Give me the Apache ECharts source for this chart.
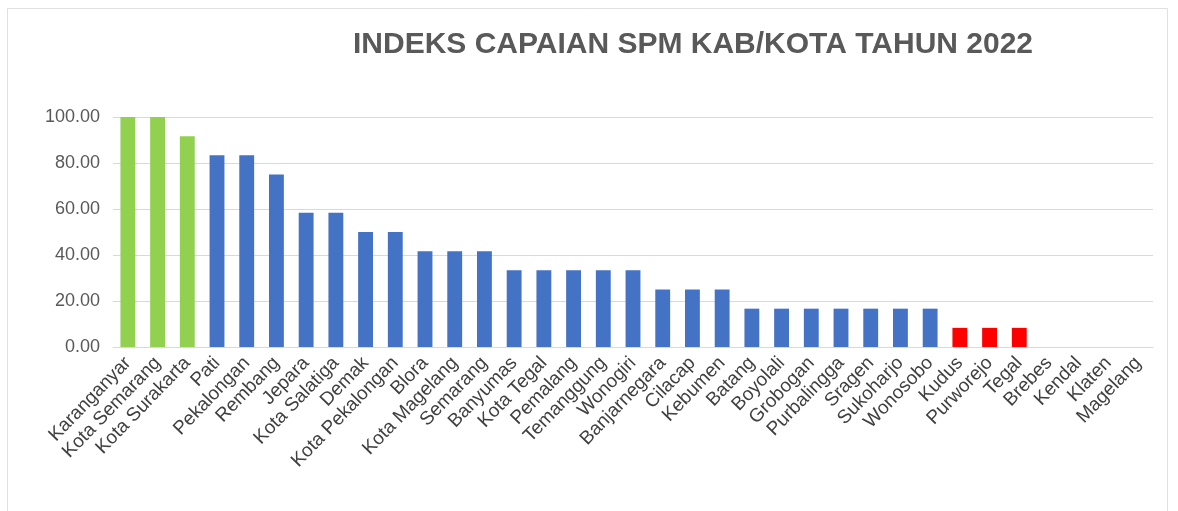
<!DOCTYPE html>
<html>
<head>
<meta charset="utf-8">
<title>Indeks Capaian SPM Kab/Kota 2022</title>
<script src="https://cdn.jsdelivr.net/npm/echarts@6/dist/echarts.min.js"></script>
<style>
  html, body { margin: 0; padding: 0; background: #fff; }
  #chart { width: 1178px; height: 511px; }
</style>
</head>
<body>
<div id="chart"></div>
<script>
// kategori kab/kota
const categories = [
  'Karanganyar', 'Kota Semarang', 'Kota Surakarta', 'Pati', 'Pekalongan', 'Rembang',
  'Jepara', 'Kota Salatiga', 'Demak', 'Kota Pekalongan', 'Blora', 'Kota Magelang',
  'Semarang', 'Banyumas', 'Kota Tegal', 'Pemalang', 'Temanggung', 'Wonogiri',
  'Banjarnegara', 'Cilacap', 'Kebumen', 'Batang', 'Boyolali', 'Grobogan',
  'Purbalingga', 'Sragen', 'Sukoharjo', 'Wonosobo', 'Kudus', 'Purworejo', 'Tegal',
  'Brebes', 'Kendal', 'Klaten', 'Magelang'
]

// nilai indeks
const values = [
  100, 100, 91.67, 83.33, 83.33, 75,
  58.33, 58.33, 50, 50, 41.67, 41.67,
  41.67, 33.33, 33.33, 33.33, 33.33, 33.33,
  25, 25, 25, 16.67, 16.67, 16.67,
  16.67, 16.67, 16.67, 16.67, 8.33, 8.33, 8.33,
  0, 0, 0, 0
]

// kelompok warna: g = hijau, b = biru, r = merah
const groups = [
  'g', 'g', 'g', 'b', 'b', 'b',
  'b', 'b', 'b', 'b', 'b', 'b',
  'b', 'b', 'b', 'b', 'b', 'b',
  'b', 'b', 'b', 'b', 'b', 'b',
  'b', 'b', 'b', 'b', 'r', 'r', 'r',
  'r', 'r', 'r', 'r'
]

const yTicks = [0, 20, 40, 60, 80, 100]

const colorMap = { g: '#92D050', b: '#4472C4', r: '#FF0000' }

const chart = echarts.init(document.getElementById('chart'))

const option = {
  backgroundColor: '#ffffff',
  animation: false,
  title: {
    text: 'INDEKS CAPAIAN SPM KAB/KOTA TAHUN 2022',
    left: 688,
    top: 25,
    textAlign: 'center',
    textStyle: {
      fontFamily: 'Liberation Sans, Arial, sans-serif',
      fontWeight: 'bold',
      fontSize: 30,
      color: '#595959'
    }
  },
  graphic: [{
    type: 'rect',
    shape: { x: 7.5, y: 8.5, width: 1160, height: 520 },
    style: { fill: 'none', stroke: '#e0e0e0', lineWidth: 1 },
    silent: true,
    z: -1
  }],
  grid: {
    left: 113,
    right: 25,
    top: 117,
    bottom: 164
  },
  xAxis: {
    type: 'category',
    data: categories,
    axisLine: { lineStyle: { color: '#d9d9d9', width: 1 } },
    axisTick: { show: false },
    axisLabel: {
      interval: 0,
      rotate: 46,
      margin: 13,
      fontFamily: 'Liberation Sans, Arial, sans-serif',
      fontSize: 19,
      color: '#404040'
    }
  },
  yAxis: {
    type: 'value',
    min: yTicks[0],
    max: yTicks[yTicks.length - 1],
    interval: 20,
    axisLine: { show: false },
    axisTick: { show: false },
    axisLabel: {
      margin: 13,
      fontFamily: 'Liberation Sans, Arial, sans-serif',
      fontSize: 18,
      color: '#595959',
      formatter: v => v.toFixed(2)
    },
    splitLine: { lineStyle: { color: '#d9d9d9', width: 1 } }
  },
  series: [{
    type: 'bar',
    barWidth: '50%',
    data: values.map((v, i) => ({
      value: v,
      itemStyle: { color: colorMap[groups[i]] }
    }))
  }]
}

chart.setOption(option)
</script>
</body>
</html>
